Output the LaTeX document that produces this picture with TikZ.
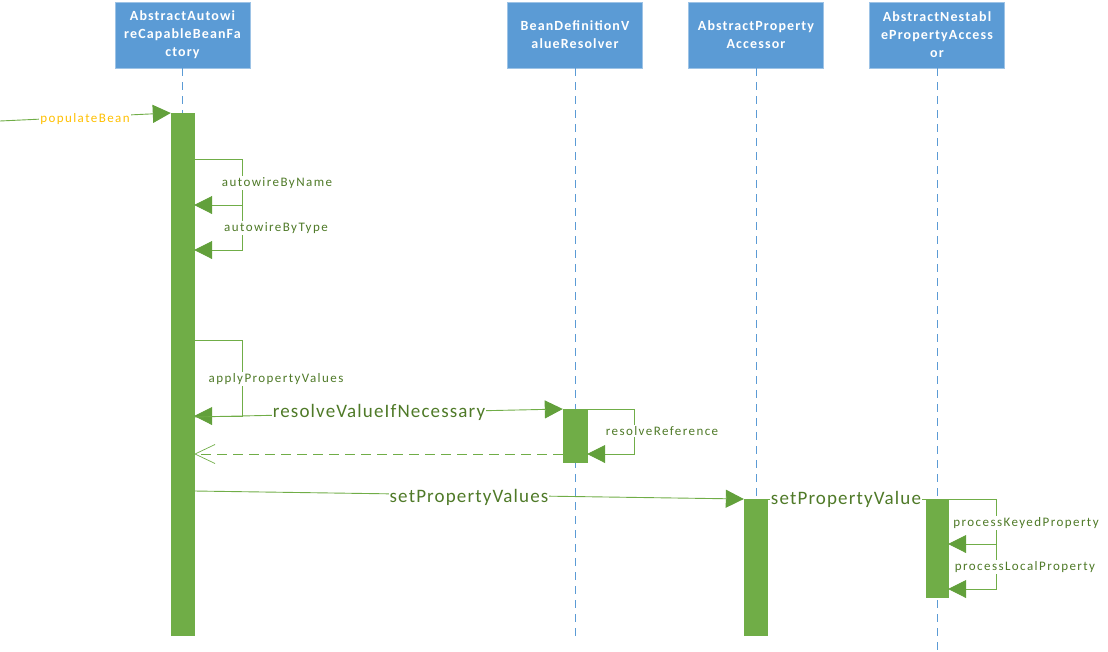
\documentclass[tikz,border=0pt]{standalone}
\usepackage{fontspec}
\setmainfont{Carlito}
\newfontfamily\headfont[LetterSpace=8]{Carlito}
\newfontfamily\lblfont[LetterSpace=11]{Carlito}
\newfontfamily\biglblfont[LetterSpace=6]{Carlito}
\usetikzlibrary{arrows.meta}
\definecolor{boxblue}{HTML}{5B9BD5}
\definecolor{bargreen}{HTML}{70AD47}
\definecolor{tipgreen}{HTML}{62A03B}
\definecolor{txtgreen}{HTML}{4F7A28}
\definecolor{callorange}{HTML}{FFC000}

\tikzset{
  head/.style={fill=boxblue,draw=boxblue!60!white,text=white,align=center,inner sep=0pt,
    minimum width=135pt,minimum height=66pt,font=\headfont\bfseries\fontsize{14}{18}\selectfont},
  life/.style={boxblue,line width=0.8pt,dash pattern=on 8pt off 6pt},
  bar/.style={fill=bargreen,draw=bargreen,inner sep=0pt,minimum width=23pt,anchor=north},
  call/.style={bargreen,line width=0.9pt,-{Triangle[length=18pt,width=18pt,color=tipgreen]}},
  ret/.style={bargreen,line width=0.9pt,dash pattern=on 10pt off 6pt,-{Straight Barb[length=20pt,width=19pt,line width=0.7pt]}},
  lbl/.style={fill=white,inner sep=1pt,text=txtgreen,font=\lblfont\fontsize{13}{15}\selectfont},
  biglbl/.style={fill=white,inner sep=1pt,text=txtgreen,font=\biglblfont\fontsize{19}{21}\selectfont}
}

\begin{document}
\begin{tikzpicture}[x=1pt,y=-1pt]
\useasboundingbox (0,0) rectangle (1108,651);
% lifelines heads
\node[head] (fac) at (182.5,35) {AbstractAutowi\\reCapableBeanFa\\ctory};
\node[head] (res) at (575,35) {BeanDefinitionV\\alueResolver};
\node[head] (apa) at (756,35) {AbstractProperty\\Accessor};
\node[head] (nap) at (937,35) {AbstractNestabl\\ePropertyAccess\\or};
\draw[life] (fac.south) -- (182.5,635);
\draw[life] (res.south) -- (575,637);
\draw[life] (apa.south) -- (756,635);
\draw[life] (nap.south) -- (937,651);
% activation bars
\node[bar,minimum height=522pt] (facbar) at (182.5,113) {};
\node[bar,minimum height=53pt,minimum width=24pt] (resbar) at (575,409) {};
\node[bar,minimum height=136pt] (apabar) at (755.5,499) {};
\node[bar,minimum height=98pt,minimum width=22pt] (napbar) at (937,499) {};
% populateBean
\coordinate (caller) at (0,121);
\draw[call] (caller) -- (facbar.north west);
\node[lbl,text=callorange] (pb) at (85,119) {populateBean};
% autowire
\draw[call] (facbar.east |- 0,159) -| (242,205) -- (facbar.east |- 0,205);
\draw[call] (242,205) |- (facbar.east |- 0,250);
\node[lbl] (byname) at (277,183) {autowireByName};
\node[lbl] (bytype) at (276,228) {autowireByType};
% applyPropertyValues
\draw[call] (facbar.east |- 0,340) -| (242,416) -- (facbar.east |- 0,416);
\node[lbl] (apply) at (276,379) {applyPropertyValues};
\draw[call] (facbar.east |- 0,417) -- (resbar.north west);
\node[biglbl] (rvin) at (379,412) {resolveValueIfNecessary};
\draw[call] (resbar.north east) -| (634,454) -- (resbar.east |- 0,454);
\node[lbl] (rref) at (662,431) {resolveReference};
\draw[ret] (resbar.west |- 0,454) -- (facbar.east |- 0,454);
% setPropertyValues
\draw[call] (facbar.east |- 0,491) -- (apabar.north west);
\node[biglbl] (spvs) at (469,497) {setPropertyValues};
\draw[bargreen,line width=0.9pt] (apabar.north east) -- (napbar.north west);
\node[biglbl] (spv) at (846,499) {setPropertyValue};
\draw[call] (napbar.north east) -| (996,544) -- (napbar.east |- 0,544);
\draw[call] (996,544) |- (napbar.east |- 0,589);
\node[lbl] (keyed) at (1026,523) {processKeyedProperty};
\node[lbl] (local) at (1025,567) {processLocalProperty};
\end{tikzpicture}
\end{document}
